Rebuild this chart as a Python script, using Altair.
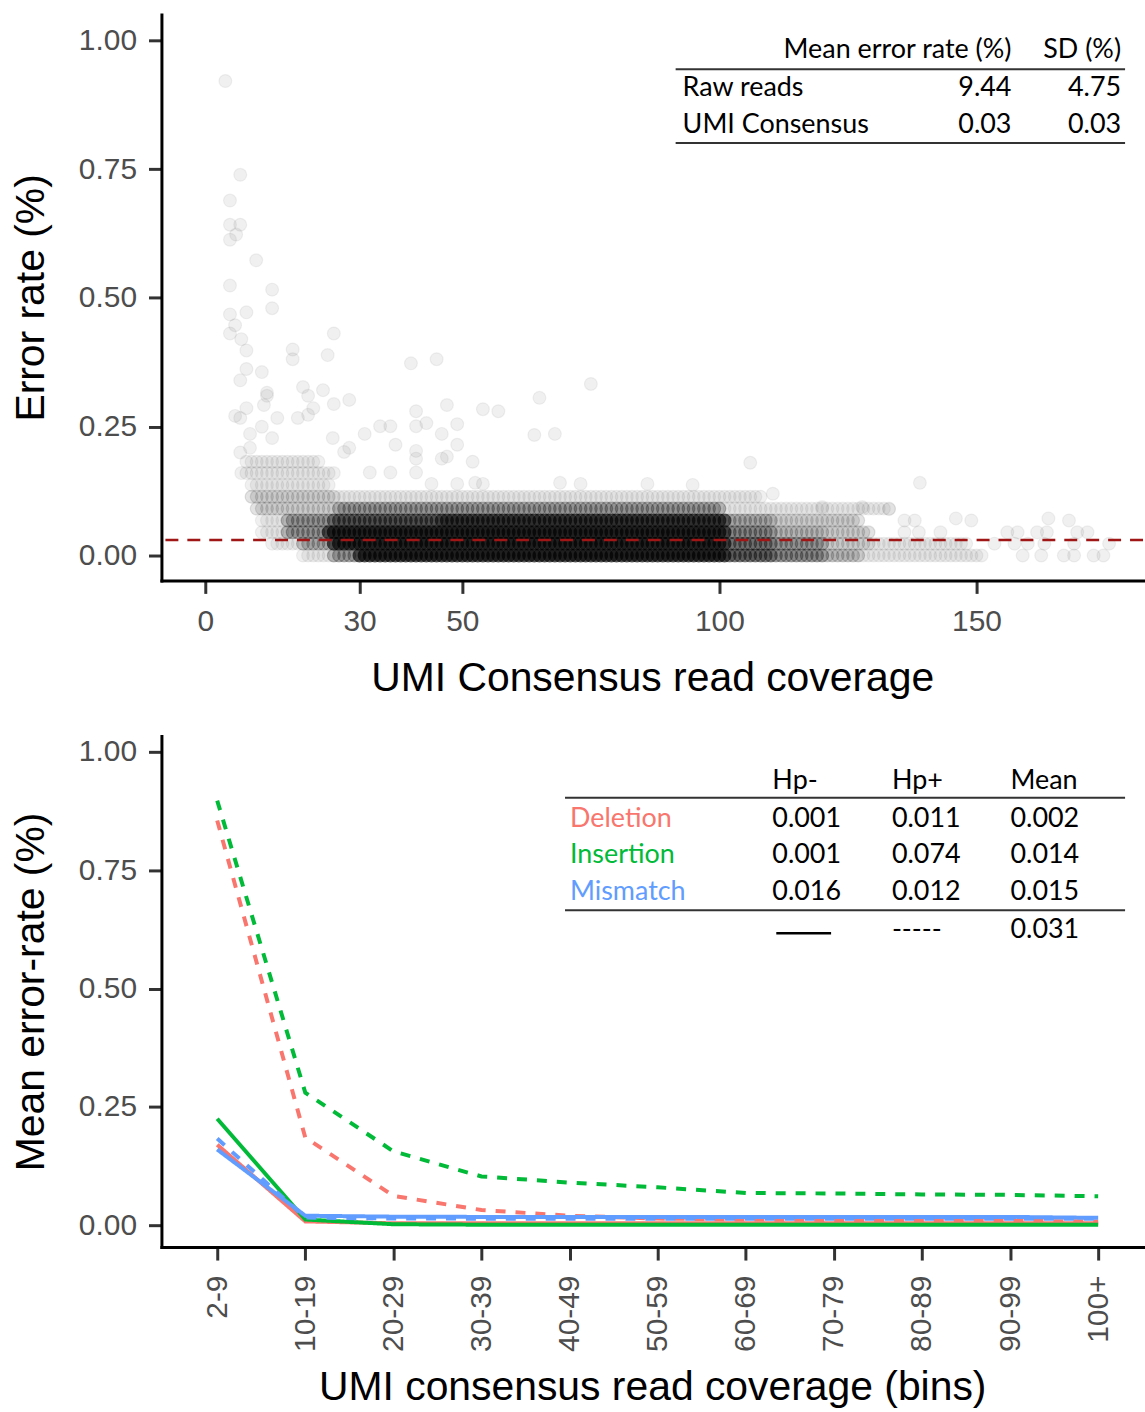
import altair as alt
import pandas as pd

# ---------------- Top panel: error rate per UMI consensus vs coverage ----------------
# Dense band, read row by row: error-rate level, first / last coverage, points per coverage value
band_rate = [0.0, 0.0, 0.0, 0.0, 0.0, 0.0, 0.0,
             0.023, 0.023, 0.023, 0.023, 0.023, 0.023, 0.023,
             0.045, 0.045, 0.045, 0.045, 0.045, 0.045,
             0.068, 0.068, 0.068, 0.068, 0.068, 0.068,
             0.091, 0.091, 0.091,
             0.114, 0.114,
             0.137, 0.160, 0.182]
band_start = [19, 25, 30, 102, 111, 121, 128,
              13, 19, 25, 102, 111, 121, 130,
              11, 16, 24, 102, 111, 121,
              11, 16, 25, 46, 102, 111,
              10, 26, 101,
              9, 26,
              9, 7, 8]
band_end = [24, 29, 101, 110, 120, 127, 151,
            18, 24, 101, 110, 120, 129, 148,
            15, 23, 101, 110, 120, 129,
            15, 24, 45, 101, 110, 127,
            25, 100, 133,
            25, 108,
            24, 25, 22]
band_count = [1, 5, 30, 10, 6, 3, 1,
              1, 4, 30, 8, 5, 2, 1,
              1, 5, 30, 6, 3, 2,
              1, 5, 12, 20, 4, 2,
              2, 5, 1,
              2, 1,
              1, 1, 1]

# Individually visible points (coverage, error rate %)
single_cov = [159, 162.6, 167, 169, 172.8, 174.7,
              153.5, 157.4, 160, 163.2, 169, 175.8,
              136, 138.8, 143, 156, 158, 161.8, 163.7, 169.6, 171.6,
              136, 138, 146, 149, 164, 168,
              110.4, 120, 127.8, 133,
              44, 49, 52.5, 54, 69, 73, 86, 94.8,
              139, 106,
              3.9, 6.8, 4.8, 4.8, 6.8, 6.0, 4.8, 9.9, 4.8, 13, 8, 13, 4.8, 5.8, 4.8,
              7, 8, 25, 23.8, 17, 17, 8, 11, 6.8, 19, 22.9, 20, 25, 28, 12, 12,
              11.4, 8, 21, 20, 18, 14, 5.8, 6.8, 11, 8.7, 13, 6.8, 8.7,
              40, 45, 75, 65, 47, 54, 57, 41, 34, 36, 41, 43, 49, 46, 31, 24.8,
              49, 37, 27, 28, 41, 64, 68, 41, 46, 47, 52, 32, 36, 41]
single_rate = [0.0, 0.0, 0.0, 0.0, 0.0, 0.0,
               0.023, 0.023, 0.023, 0.023, 0.023, 0.023,
               0.045, 0.045, 0.045, 0.045, 0.045, 0.045, 0.045, 0.045, 0.045,
               0.068, 0.068, 0.072, 0.068, 0.072, 0.068,
               0.12, 0.094, 0.094, 0.09,
               0.139, 0.139, 0.141, 0.139, 0.141, 0.139, 0.139, 0.137,
               0.141, 0.18,
               0.921, 0.739, 0.689, 0.642, 0.642, 0.623, 0.613, 0.573, 0.524, 0.516, 0.472, 0.48, 0.468, 0.447, 0.431,
               0.42, 0.398, 0.431, 0.389, 0.40, 0.381, 0.362, 0.356, 0.34, 0.327, 0.321, 0.31, 0.294, 0.302, 0.316, 0.31,
               0.292, 0.286, 0.286, 0.273, 0.267, 0.267, 0.271, 0.267, 0.25, 0.236, 0.228, 0.2, 0.209,
               0.373, 0.381, 0.333, 0.306, 0.292, 0.284, 0.28, 0.28, 0.251, 0.251, 0.251, 0.257, 0.255, 0.236, 0.236, 0.228,
               0.215, 0.215, 0.201, 0.209, 0.203, 0.234, 0.236, 0.188, 0.188, 0.192, 0.182, 0.161, 0.161, 0.161]

mean_consensus_rate = 0.03

top_table_header = ["Mean error rate (%)", "SD (%)"]
top_table_rows = ["Raw reads", "UMI Consensus"]
top_table_mean = ["9.44", "0.03"]
top_table_sd = ["4.75", "0.03"]

# ---------------- Bottom panel: mean error rate by coverage bin ----------------
coverage_bins = ["2-9", "10-19", "20-29", "30-39", "40-49", "50-59",
                 "60-69", "70-79", "80-89", "90-99", "100+"]
deletion_hp_minus = [0.170, 0.008, 0.004, 0.004, 0.004, 0.004, 0.004, 0.004, 0.004, 0.004, 0.004]
deletion_hp_plus = [0.855, 0.185, 0.062, 0.032, 0.020, 0.014, 0.012, 0.011, 0.010, 0.009, 0.008]
insertion_hp_minus = [0.225, 0.012, 0.002, 0.001, 0.001, 0.001, 0.001, 0.001, 0.001, 0.001, 0.001]
insertion_hp_plus = [0.897, 0.280, 0.156, 0.103, 0.090, 0.080, 0.068, 0.067, 0.065, 0.064, 0.061]
mismatch_hp_minus = [0.160, 0.020, 0.018, 0.0175, 0.0175, 0.0175, 0.0175, 0.0175, 0.0175, 0.0175, 0.0155]
mismatch_hp_plus = [0.183, 0.016, 0.014, 0.0138, 0.0138, 0.0138, 0.0138, 0.0138, 0.0138, 0.0138, 0.0138]

bot_table_header = ["Hp-", "Hp+", "Mean"]
bot_table_rows = ["Deletion", "Insertion", "Mismatch"]
bot_table_hp_minus = ["0.001", "0.001", "0.016"]
bot_table_hp_plus = ["0.011", "0.074", "0.012"]
bot_table_mean = ["0.002", "0.014", "0.015"]
bot_table_total = "0.031"

type_colors = ["#F8766D", "#00BA38", "#619CFF"]

# ---------------- build tables ----------------
alpha = 0.08
rows = []
for r, c0, c1, n in zip(band_rate, band_start, band_end, band_count):
    for c in range(c0, c1 + 1):
        rows.append((c, r, n))
for c, r in zip(single_cov, single_rate):
    rows.append((c, r, 1))
scatter_df = pd.DataFrame(rows, columns=["coverage", "rate", "n"])
scatter_df["op"] = 1 - (1 - alpha) ** scatter_df["n"]

series = {
    ("Deletion", "Hp-"): deletion_hp_minus,
    ("Deletion", "Hp+"): deletion_hp_plus,
    ("Insertion", "Hp-"): insertion_hp_minus,
    ("Insertion", "Hp+"): insertion_hp_plus,
    ("Mismatch", "Hp-"): mismatch_hp_minus,
    ("Mismatch", "Hp+"): mismatch_hp_plus,
}
lrows = []
for (t, hp), vals in series.items():
    for i, v in enumerate(vals):
        lrows.append({"bin_index": i, "bin": coverage_bins[i], "type": t, "hp": hp,
                      "series": t + " " + hp, "rate": v})
line_df = pd.DataFrame(lrows)

AXFONT = "Liberation Sans"
TABFONT = "Lato"
TABSIZE = 27


def txt(s, px, py, align="left", color="black", size=TABSIZE):
    return alt.Chart(pd.DataFrame({"t": [s]})).mark_text(
        align=align, baseline="middle", font=TABFONT, fontSize=size, color=color
    ).encode(x=alt.value(px), y=alt.value(py), text="t:N")


def hrule(x1, x2, py, color="#333333", width=2):
    return alt.Chart(pd.DataFrame({"a": [0]})).mark_rule(
        color=color, strokeWidth=width
    ).encode(x=alt.value(x1), x2=alt.value(x2), y=alt.value(py))


W = 985
H_TOP = 568
H_BOT = 513

# ---------------- top chart ----------------
points = alt.Chart(scatter_df).mark_circle(
    size=165, color="black", stroke="black", strokeWidth=1.2
).encode(
    x=alt.X("coverage:Q",
            scale=alt.Scale(domain=[-8.53, 182.4], nice=False, zero=False),
            axis=alt.Axis(values=[0, 30, 50, 100, 150], title="UMI Consensus read coverage",
                          labelPadding=13, titlePadding=22)),
    y=alt.Y("rate:Q",
            scale=alt.Scale(domain=[-0.0484, 1.0503], nice=False, zero=False),
            axis=alt.Axis(values=[0, 0.25, 0.5, 0.75, 1.0], format=".2f", title="Error rate (%)",
                          labelPadding=12, titlePadding=26)),
    fillOpacity=alt.FillOpacity("op:Q", scale=None),
    strokeOpacity=alt.StrokeOpacity("op:Q", scale=None),
)

mean_rule = alt.Chart(pd.DataFrame({"m": [mean_consensus_rate]})).mark_rule(
    color="#A01515", strokeWidth=2.5, strokeDash=[13, 9]
).encode(y="m:Q")

top_layers = [points, mean_rule,
              txt(top_table_header[0], 853, 36, "right"),
              txt(top_table_header[1], 963, 36, "right"),
              hrule(516, 967, 55)]
for i, (lab, m, sd) in enumerate(zip(top_table_rows, top_table_mean, top_table_sd)):
    yy = 74 + 37 * i
    top_layers += [txt(lab, 523, yy, "left"), txt(m, 853, yy, "right"), txt(sd, 963, yy, "right")]
top_layers.append(hrule(516, 967, 129))

top = alt.layer(*top_layers).properties(width=W, height=H_TOP)

# ---------------- bottom chart ----------------
label_expr = "[" + ",".join("'" + b + "'" for b in coverage_bins) + "][datum.value]"

lines = alt.Chart(line_df).mark_line(strokeWidth=4).encode(
    x=alt.X("bin_index:Q",
            scale=alt.Scale(domain=[-0.633, 10.509], nice=False, zero=False),
            axis=alt.Axis(values=list(range(len(coverage_bins))), labelExpr=label_expr,
                          labelAngle=270, title="UMI consensus read coverage (bins)",
                          labelPadding=15, titlePadding=16)),
    y=alt.Y("rate:Q",
            scale=alt.Scale(domain=[-0.0463, 1.0337], nice=False, zero=False),
            axis=alt.Axis(values=[0, 0.25, 0.5, 0.75, 1.0], format=".2f", title="Mean error-rate (%)",
                          labelPadding=12, titlePadding=26)),
    color=alt.Color("type:N", scale=alt.Scale(domain=bot_table_rows, range=type_colors), legend=None),
    strokeDash=alt.StrokeDash("hp:N", scale=alt.Scale(domain=["Hp-", "Hp+"], range=[[1, 0], [10, 10]]),
                              legend=None),
    detail="series:N",
)

bot_layers = [lines]
for j, h in enumerate(bot_table_header):
    bot_layers.append(txt(h, [613, 733, 852][j], 45, "left"))
bot_layers.append(hrule(405, 967, 62))
for i, lab in enumerate(bot_table_rows):
    yy = 83 + 37 * i
    bot_layers += [txt(lab, 410, yy, "left", color=type_colors[i]),
                   txt(bot_table_hp_minus[i], 613, yy, "left"),
                   txt(bot_table_hp_plus[i], 733, yy, "left"),
                   txt(bot_table_mean[i], 852, yy, "left")]
bot_layers.append(hrule(405, 967, 175))
bot_layers.append(hrule(617, 672, 198, color="black", width=2.5))
bot_layers.append(txt("-----", 733, 195, "left"))
bot_layers.append(txt(bot_table_total, 852, 195, "left"))

bottom = alt.layer(*bot_layers).properties(width=W, height=H_BOT)

chart = alt.vconcat(top, bottom, spacing=38).configure(
    padding={"left": 10, "top": 12, "right": 0, "bottom": 0}
).configure_view(stroke=None).configure_axis(
    grid=False,
    labelFont=AXFONT, labelFontSize=30, labelColor="#4D4D4D",
    titleFont=AXFONT, titleFontSize=41, titleFontWeight="normal", titleColor="black",
    domainColor="black", domainWidth=3, domainCap="square",
    tickColor="#333333", tickWidth=3, tickSize=13,
)

chart.save("out.html", embed_options={"renderer": "svg", "actions": False})
